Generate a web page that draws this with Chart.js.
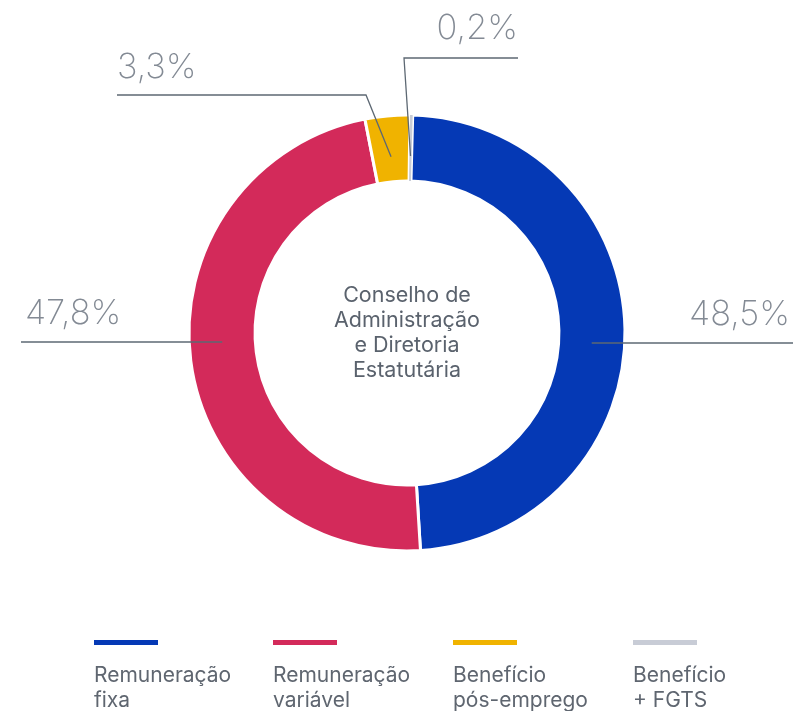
<!DOCTYPE html>
<html>
<head>
<meta charset="utf-8">
<script src="https://cdn.jsdelivr.net/npm/chart.js@4.4.1/dist/chart.umd.min.js"></script>
<style>
  html, body { margin: 0; padding: 0; background: #fff; }
  #wrap { position: relative; width: 807px; height: 711px; overflow: hidden; }
  #chart { position: absolute; left: 0; top: 0; }
  .leg-item { position: absolute; top: 640px; font-family: Inter, 'Noto Sans', sans-serif; }
  .leg-bar { width: 64px; height: 5px; }
  .leg-text { margin-top: 17px; font-size: 21px; line-height: 25px; color: #5f6670; white-space: pre; }
</style>
</head>
<body>
<div id="wrap">
  <canvas id="chart" width="807" height="711"></canvas>
  <div id="legend"></div>
</div>
<script>
(function () {
  'use strict';

  // --- data ---
  const categories = ['Remuneração\nfixa', 'Remuneração\nvariável', 'Benefício\npós-emprego', 'Benefício\n+ FGTS'];
  const shares = [48.5, 47.8, 3.3, 0.2];
  const shareLabels = ['48,5%', '47,8%', '3,3%', '0,2%'];
  const colors = ['#0539b5', '#d32a5a', '#f0b300', '#c8ccd6'];
  const centerTitle = ['Conselho de', 'Administração', 'e Diretoria', 'Estatutária'];

  // callout placement, relative to the doughnut centre (px)
  const callouts = [
    { side: 1, dy: 10, lineEnd: 386, tx: 383, ty: -8, align: 'right' },
    { side: -1, dy: 9, lineEnd: -386, tx: -382, ty: -9, align: 'left' },
    { elbow: [-41, -238], end: [-290, -238], tx: -290, ty: -255, align: 'left' },
    { elbow: [-3, -275], end: [111, -275], tx: 111, ty: -294, align: 'right' },
  ];
  const legendX = [94, 273, 453, 633];

  const calloutPlugin = {
    id: 'callouts',
    afterDatasetsDraw: function (chart) {
      const ctx = chart.ctx;
      const arcs = chart.getDatasetMeta(0).data;
      if (!arcs.length) return;
      const cx = arcs[0].x, cy = arcs[0].y;
      const midR = (arcs[0].outerRadius + arcs[0].innerRadius) / 2;

      ctx.save();
      // centre title
      ctx.fillStyle = '#5a626d';
      ctx.font = '400 21.5px Inter, "Noto Sans", sans-serif';
      ctx.textAlign = 'center';
      ctx.textBaseline = 'alphabetic';
      centerTitle.forEach(function (line, i) {
        ctx.fillText(line, cx, cy - 31 + i * 25);
      });

      // leader lines + value labels
      ctx.strokeStyle = '#5d6873';
      ctx.lineWidth = 1.3;
      callouts.forEach(function (c, i) {
        const arc = arcs[i];
        ctx.beginPath();
        if (c.side) {
          const x0 = cx + c.side * Math.sqrt(midR * midR - c.dy * c.dy);
          ctx.moveTo(x0, cy + c.dy);
          ctx.lineTo(cx + c.lineEnd, cy + c.dy);
        } else {
          const a = (arc.startAngle + arc.endAngle) / 2;
          ctx.moveTo(cx + Math.cos(a) * (midR - 8), cy + Math.sin(a) * (midR - 8));
          ctx.lineTo(cx + c.elbow[0], cy + c.elbow[1]);
          ctx.lineTo(cx + c.end[0], cy + c.end[1]);
        }
        ctx.stroke();

        ctx.fillStyle = '#838a94';
        ctx.font = '200 34.5px Inter, "Noto Sans", sans-serif';
        ctx.textAlign = c.align;
        ctx.fillText(shareLabels[i], cx + c.tx, cy + c.ty);
      });
      ctx.restore();
    }
  };

  new Chart(document.getElementById('chart').getContext('2d'), {
    type: 'doughnut',
    data: {
      labels: categories,
      datasets: [{
        data: shares,
        backgroundColor: colors,
        borderColor: '#ffffff',
        borderWidth: [3, 3, 3, 0],
        hoverOffset: 0,
      }],
    },
    options: {
      responsive: false,
      animation: false,
      rotation: 1.5,
      radius: 218,
      cutout: '69.7%',
      layout: { padding: { left: 7, right: 0, top: 0, bottom: 45 } },
      plugins: {
        legend: { display: false },
        tooltip: { enabled: false },
      },
    },
    plugins: [calloutPlugin],
  });

  // --- legend ---
  var legend = document.getElementById('legend');
  categories.forEach(function (name, i) {
    var item = document.createElement('div');
    item.className = 'leg-item';
    item.style.left = legendX[i] + 'px';
    item.innerHTML = '<div class="leg-bar" style="background:' + colors[i] + '"></div>' +
      '<div class="leg-text"></div>';
    item.querySelector('.leg-text').textContent = name;
    legend.appendChild(item);
  });
})();
</script>
</body>
</html>
